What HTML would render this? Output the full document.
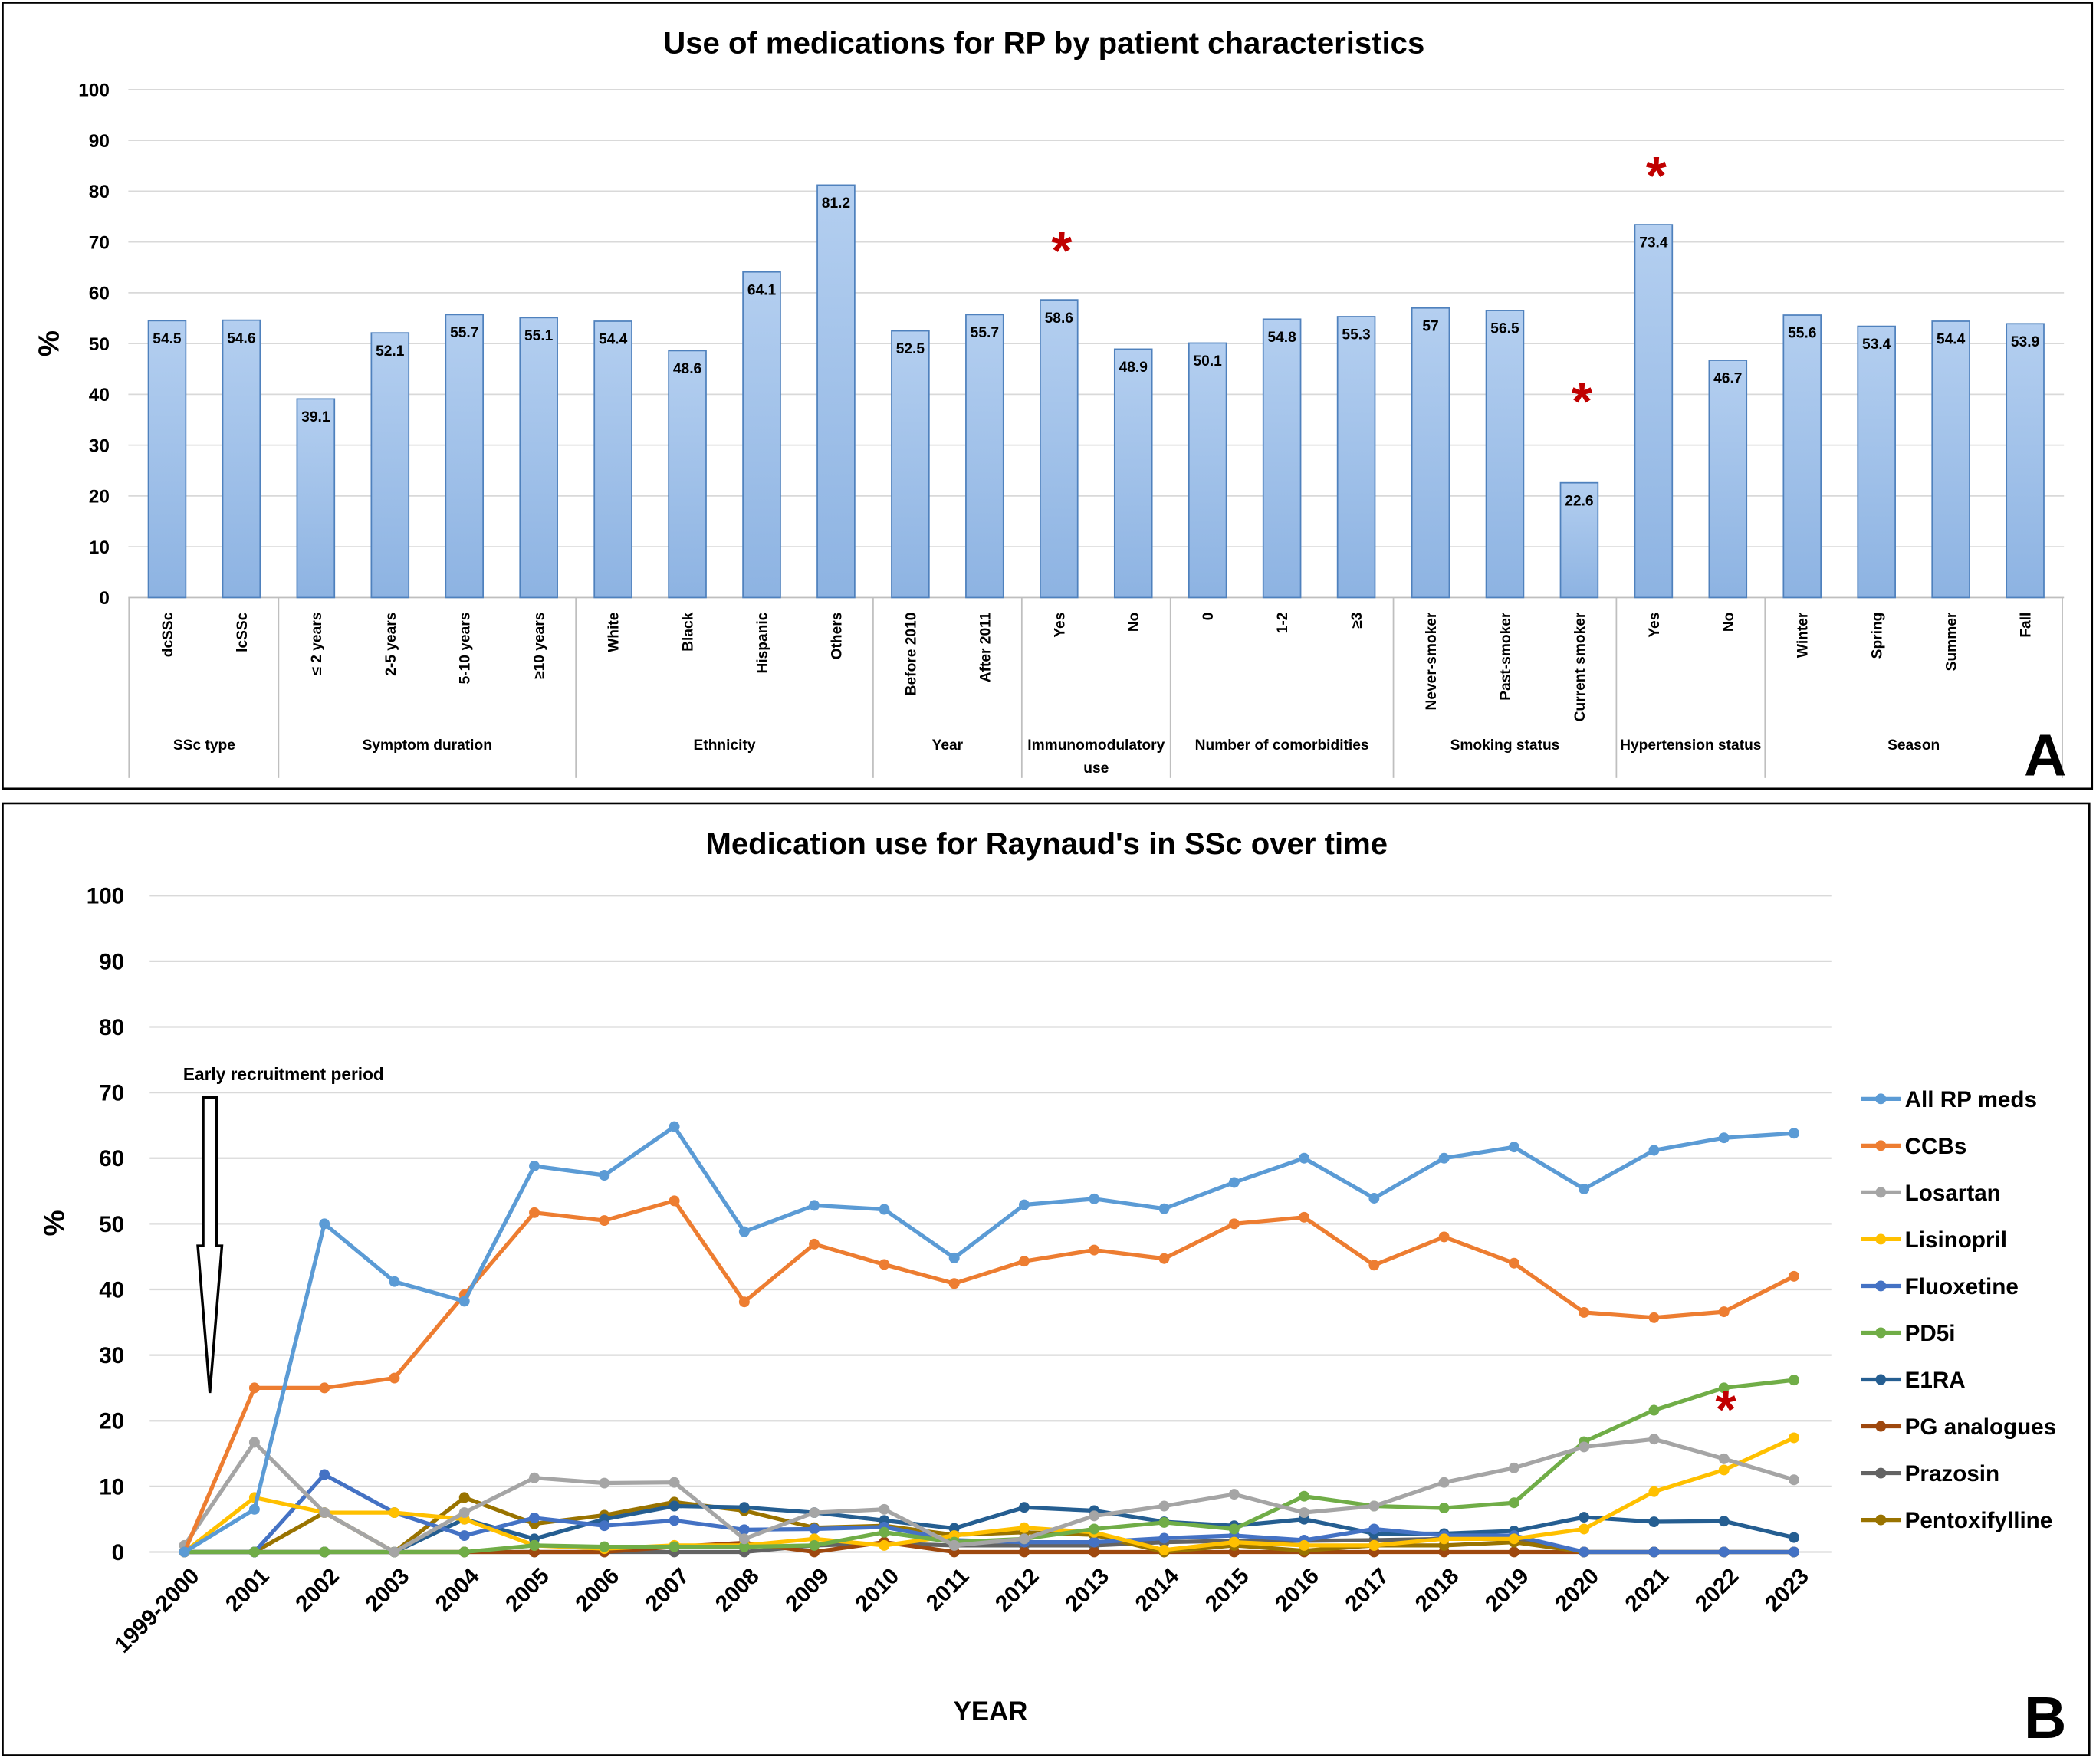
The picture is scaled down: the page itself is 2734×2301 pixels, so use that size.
<!DOCTYPE html>
<html><head><meta charset="utf-8"><style>
html,body{margin:0;padding:0;background:#fff}
svg{display:block;font-family:"Liberation Sans",sans-serif}
</style></head><body>
<svg id="s" width="2734" height="2301" viewBox="0 0 1568 1319.6" preserveAspectRatio="none" xmlns="http://www.w3.org/2000/svg">
<defs><linearGradient id="bg" x1="0" y1="0" x2="0" y2="1"><stop offset="0" stop-color="#b4cff0"/><stop offset="1" stop-color="#8db3e2"/></linearGradient></defs>
<rect x="2" y="2" width="1563" height="588" fill="#fff" stroke="#000" stroke-width="1.5"/>
<rect x="2" y="601" width="1561" height="712" fill="#fff" stroke="#000" stroke-width="1.5"/>
<g id="A"></g>
<g id="B"></g>
</svg>
<script>
const NS="http://www.w3.org/2000/svg";
const barCats=["dcSSc","lcSSc","≤ 2 years","2-5 years","5-10 years","≥10 years","White","Black","Hispanic","Others","Before 2010","After 2011","Yes","No","0","1-2","≥3","Never-smoker","Past-smoker","Current smoker","Yes","No","Winter","Spring","Summer","Fall"];
const barVals=[54.5,54.6,39.1,52.1,55.7,55.1,54.4,48.6,64.1,81.2,52.5,55.7,58.6,48.9,50.1,54.8,55.3,57,56.5,22.6,73.4,46.7,55.6,53.4,54.4,53.9];
const groupNames=["SSc type","Symptom duration","Ethnicity","Year","Immunomodulatory|use","Number of comorbidities","Smoking status","Hypertension status","Season"];
const groupSizes=[2,4,4,2,2,3,3,2,4];
const starBars=[12,19,20];
const years=["1999-2000","2001","2002","2003","2004","2005","2006","2007","2008","2009","2010","2011","2012","2013","2014","2015","2016","2017","2018","2019","2020","2021","2022","2023"];
const seriesNames=["All RP meds","CCBs","Losartan","Lisinopril","Fluoxetine","PD5i","E1RA","PG analogues","Prazosin","Pentoxifylline"];
const allRP=[0,6.5,50,41.2,38.2,58.8,57.4,64.8,48.8,52.8,52.2,44.8,52.9,53.8,52.3,56.3,60,53.9,60,61.7,55.3,61.2,63.1,63.8];
const ccbs=[0,25,25,26.5,39.2,51.7,50.5,53.5,38.1,46.9,43.8,40.9,44.3,46,44.7,50,51,43.7,48,44,36.5,35.7,36.6,42];
const losartan=[1,16.7,6,0,6,11.3,10.5,10.6,2,6,6.5,1,2,5.5,7,8.8,6,7,10.6,12.8,16,17.2,14.2,11];
const lisinopril=[0,8.3,6,6,5,1,0.5,1,1,2,1,2.5,3.7,3,0.3,1.5,1,1,2,2,3.5,9.2,12.5,17.4];
const fluoxetine=[0,0,11.8,6,2.5,5.2,4,4.8,3.4,3.5,3.8,1.8,1.5,1.5,2.1,2.5,1.8,3.5,2.5,2.5,0,0,0,0];
const pd5i=[0,0,0,0,0,1,0.8,0.8,0.8,1,3,1.5,2,3.5,4.5,3.5,8.5,7,6.7,7.5,16.8,21.6,25,26.2];
const e1ra=[0,0,0,0,5,2,5,7,6.8,6,4.8,3.6,6.8,6.3,4.6,4,5,2.8,2.8,3.2,5.3,4.6,4.7,2.2];
const pg=[0,0,0,0,0,0,0,0.8,1.4,0,1.5,0,0,0,0,0,0,0,0,0,0,0,0,0];
const prazosin=[0,0,0,0,0,0,0,0,0,1,1.3,1,1,1,1.5,1.7,1.7,1.8,2,2,0,0,0,0];
const pentox=[0,0,6,0,8.3,4.3,5.6,7.6,6.3,3.7,4,2.6,3,2.6,0,1,0.2,1,1,1.5,0,0,0,0];
const ticks=[0,10,20,30,40,50,60,70,80,90,100];

function el(tag,attrs,parent,text){const e=document.createElementNS(NS,tag);for(const k in attrs)e.setAttribute(k,attrs[k]);if(text!==undefined)e.textContent=text;parent.appendChild(e);return e;}

// ---- Panel A ----
const A=document.getElementById('A');
const ay=v=>447-v*3.8, ax=i=>125+i*55.6;
el('text',{x:781,y:40,'text-anchor':'middle','font-size':23,'font-weight':'bold'},A,'Use of medications for RP by patient characteristics');
ticks.forEach(t=>{
 const g=el('line',{x1:96,x2:1544,y1:ay(t),y2:ay(t),stroke:'#d9d9d9','stroke-width':1},A);
 
 const tx=el('text',{x:82,y:ay(t)+5,'text-anchor':'end','font-size':14,'font-weight':'bold'},A,String(t));
 
});
const yl=el('text',{x:0,y:0,transform:'translate(44,257) rotate(-90)','text-anchor':'middle','font-size':22,'font-weight':'bold'},A,'%');

el('line',{x1:96,x2:1544,y1:447,y2:447,stroke:'#bfbfbf'},A);
barVals.forEach((v,i)=>{
 const r=el('rect',{x:ax(i)-14,y:ay(v),width:28,height:v*3.8,fill:'url(#bg)',stroke:'#4f81bd','stroke-width':1},A);
 
 const t=el('text',{x:ax(i),y:ay(v)+17,'text-anchor':'middle','font-size':11,'font-weight':'bold'},A,String(v));
 
 const c=el('text',{x:0,y:0,transform:`translate(${ax(i)+4},458) rotate(-90)`,'text-anchor':'end','font-size':11,'font-weight':'bold'},A,barCats[i]);
 
});
let start=0;
el('line',{x1:96.5,x2:96.5,y1:447,y2:582,stroke:'#bfbfbf'},A);
groupSizes.forEach((n,gi)=>{
 const x0=ax(start)-27.8, x1=ax(start+n-1)+27.8;
 el('line',{x1:x1,x2:x1,y1:447,y2:582,stroke:'#bfbfbf'},A);
 const parts=groupNames[gi].split('|');
 parts.forEach((p,k)=>{const t=el('text',{x:(x0+x1)/2,y:561+k*17,'text-anchor':'middle','font-size':11,'font-weight':'bold'},A,p);
  });
 start+=n;
});
starBars.forEach(i=>{
 const yy = i===19 ? ay(barVals[i])-72 : ay(barVals[i])-48;
 const s=el('text',{x:ax(i)+2,y:yy+25,'text-anchor':'middle','font-size':40,fill:'#c00000','font-weight':'bold'},A,'*');
 
});
el('text',{x:1530,y:580,'text-anchor':'middle','font-size':44,'font-weight':'bold'},A,'A');

// ---- Panel B ----
const B=document.getElementById('B');
const by=v=>1161-v*4.91, bx=i=>138+i*52.35;
el('text',{x:783,y:639,'text-anchor':'middle','font-size':23,'font-weight':'bold'},B,"Medication use for Raynaud's in SSc over time");
ticks.forEach(t=>{
 const g=el('line',{x1:112,x2:1370,y1:by(t),y2:by(t),stroke:'#d9d9d9','stroke-width':1.3},B);
 
 const tx=el('text',{x:93,y:by(t)+6,'text-anchor':'end','font-size':17,'font-weight':'bold'},B,String(t));
 
});
el('text',{x:0,y:0,transform:'translate(48,915) rotate(-90)','text-anchor':'middle','font-size':22,'font-weight':'bold'},B,'%');
years.forEach((y,i)=>{const t=el('text',{x:0,y:0,transform:`translate(${bx(i)+12},1180) rotate(-45)`,'text-anchor':'end','font-size':17,'font-weight':'bold'},B,y);
 });
el('text',{x:741,y:1287,'text-anchor':'middle','font-size':20,'font-weight':'bold'},B,'YEAR');
el('text',{x:137,y:808,'font-size':13,'font-weight':'bold'},B,'Early recruitment period');
el('path',{d:'M152,821 H162 V932 H166 L157,1042 L148,932 H152 Z',fill:'#fff',stroke:'#000','stroke-width':2},B);
const series=[allRP,ccbs,losartan,lisinopril,fluoxetine,pd5i,e1ra,pg,prazosin,pentox];
const colors=["#5b9bd5","#ed7d31","#a5a5a5","#ffc000","#4472c4","#70ad47","#255e91","#9e480e","#636363","#997300"];
const draw=[8,7,9,6,4,3,5,2,1,0];
draw.forEach(si=>{
 const d=series[si].map((v,i)=>(i?'L':'M')+bx(i)+','+by(v)).join(' ');
 const p=el('path',{d:d,fill:'none',stroke:colors[si],'stroke-width':3,'stroke-linejoin':'round'},B);
 
 series[si].forEach((v,i)=>{const c=el('circle',{cx:bx(i),cy:by(v),r:4,fill:colors[si]},B);
  });
});
seriesNames.forEach((n,i)=>{
 const yy=822+i*35;
 el('line',{x1:1392,x2:1422,y1:yy,y2:yy,stroke:colors[i],'stroke-width':3},B);
 el('circle',{cx:1407,cy:yy,r:4,fill:colors[i]},B);
 const t=el('text',{x:1425,y:yy+6,'font-size':17,'font-weight':'bold'},B,n);
 
});
el('text',{x:1291,y:1068,'text-anchor':'middle','font-size':40,fill:'#c00000','font-weight':'bold'},B,'*');
el('text',{x:1530,y:1300,'text-anchor':'middle','font-size':44,'font-weight':'bold'},B,'B');
</script>
</body></html>
